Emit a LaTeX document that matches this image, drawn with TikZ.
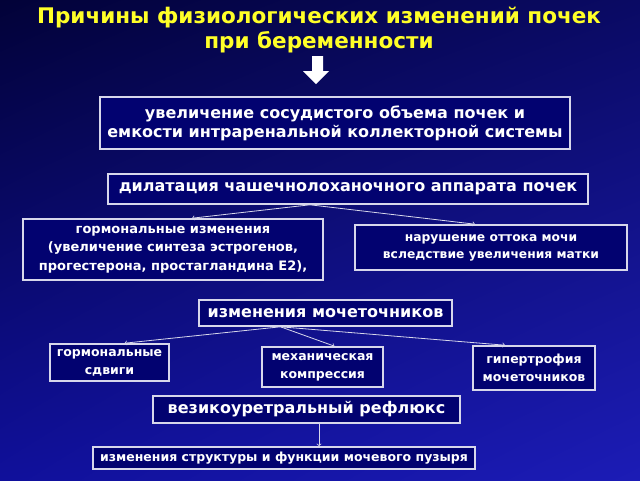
\documentclass[tikz,border=0pt]{standalone}
\usepackage{fontspec}
\setmainfont{DejaVu Sans}
\usetikzlibrary{shadings}
\definecolor{bgtl}{RGB}{2,2,56}
\definecolor{bgtr}{RGB}{10,10,100}
\definecolor{bgbl}{RGB}{16,16,155}
\definecolor{bgbr}{RGB}{28,28,182}
\definecolor{boxfill}{RGB}{2,2,112}
\definecolor{boxline}{RGB}{215,215,235}
\definecolor{titleyellow}{RGB}{255,255,40}

\begin{document}
\begin{tikzpicture}[x=1pt,y=-1pt]
\tikzstyle{every node} = [text=white, align=center, inner sep=0pt]
\tikzstyle{block} = [draw=boxline, fill=boxfill, line width=1.6pt]
\tikzstyle{big} = [font=\fontsize{16}{19}\selectfont\bfseries]
\tikzstyle{small} = [font=\fontsize{12.5}{18}\selectfont\bfseries]
\tikzstyle{link} = [draw=boxline, line width=0.8pt, ->]

% background
\useasboundingbox (0,0) rectangle (640,480);
\shade[upper left=bgtl, upper right=bgtr, lower left=bgbl, lower right=bgbr] (0,0) rectangle (640,480);

\path (319,30.5) node[text=titleyellow, font=\fontsize{21.5}{25}\selectfont\bfseries] (title)
		{Причины физиологических изменений почек\\при беременности};
\fill[white] (312,56) -- (323,56) -- (323,71) -- (329,71) -- (316,84) -- (303,71) -- (312,71) -- cycle;

\path (335,123) node[block, big, minimum width=470pt, minimum height=52pt] (vol)
		{увеличение сосудистого объема почек и\\емкости интраренальной коллекторной системы}
	(348,189) node[block, big, minimum width=480pt, minimum height=30pt] (dil)
		{дилатация чашечнолоханочного аппарата почек}
	(173,249.5) node[block, small, font=\fontsize{13}{18.5}\selectfont\bfseries, minimum width=300pt, minimum height=61pt] (horm)
		{гормональные изменения\\(увеличение синтеза эстрогенов,\\прогестерона, простагландина Е2),}
	(491,247.5) node[block, small, font=\fontsize{12.3}{17}\selectfont\bfseries, minimum width=272pt, minimum height=45pt] (flow)
		{нарушение оттока мочи\\вследствие увеличения матки}
	(325.5,313) node[block, big, minimum width=253pt, minimum height=26pt] (ureter)
		{изменения мочеточников}
	(109.5,362.5) node[block, small, minimum width=119pt, minimum height=37pt] (shift)
		{гормональные\\сдвиги}
	(322.5,367) node[block, small, minimum width=121pt, minimum height=40pt] (compr)
		{механическая\\компрессия}
	(534,368) node[block, small, minimum width=122pt, minimum height=44pt] (hyper)
		{гипертрофия\\мочеточников}
	(306.5,409.5) node[block, big, minimum width=307pt, minimum height=27pt] (reflux)
		{везикоуретральный рефлюкс}
	(284,458) node[block, small, minimum width=382pt, minimum height=22pt] (bladder)
		{изменения структуры и функции мочевого пузыря};

\draw[link] ([xshift=-38pt]dil.south) -- ([xshift=19pt]horm.north);
\draw[link] ([xshift=-38pt]dil.south) -- ([xshift=-16pt]flow.north);
\draw[link] ([xshift=-45pt]ureter.south) -- ([xshift=15pt]shift.north);
\draw[link] ([xshift=-45pt]ureter.south) -- ([xshift=12pt]compr.north);
\draw[link] ([xshift=-45pt]ureter.south) -- ([xshift=-29pt]hyper.north);
\draw[link] ([xshift=12.5pt]reflux.south) -- ([xshift=35pt]bladder.north);
\end{tikzpicture}
\end{document}
